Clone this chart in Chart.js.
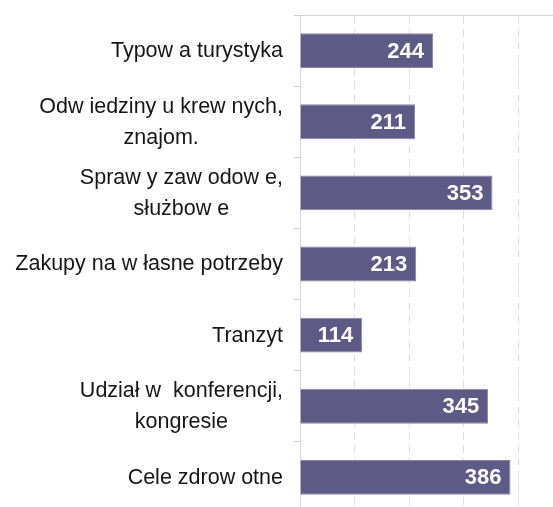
<!DOCTYPE html>
<html>
<head>
<meta charset="utf-8">
<script src="https://cdn.jsdelivr.net/npm/chart.js@4/dist/chart.umd.min.js"></script>
<style>
  html, body { margin: 0; padding: 0; background: #fff; overflow: hidden; }
  .wrap { position: relative; width: 553px; height: 515px; }
</style>
</head>
<body>
<div class="wrap"><canvas id="chart"></canvas></div>
<script>
// purposes of the visit, number of visitors
const categories = [
  ["Typow a turystyka"],
  ["Odw iedziny u krew nych,", "znajom."],
  ["Spraw y zaw odow e,", "służbow e"],
  ["Zakupy na w łasne potrzeby"],
  ["Tranzyt"],
  ["Udział w  konferencji,", "kongresie"],
  ["Cele zdrow otne"],
];
const visitors = [244, 211, 353, 213, 114, 345, 386];
const gridTicks = [0, 100, 200, 300, 400];

const barColor = "#5e5a86";
const labelFont = "21.5px 'Liberation Sans', Arial, sans-serif";
const valueFont = "bold 22px 'Liberation Sans', Arial, sans-serif";

// category names: right edge of the block at the axis, lines centred in the block
const categoryLabels = {
  id: "categoryLabels",
  afterDraw(chart) {
    const ctx = chart.ctx;
    const y = chart.scales.y;
    const right = y.right - 17;
    const lineH = 31;
    ctx.save();
    ctx.font = labelFont;
    ctx.fillStyle = "#161616";
    ctx.textAlign = "center";
    ctx.textBaseline = "middle";
    categories.forEach((lines, i) => {
      const cy = y.getPixelForValue(i) + 0.5;
      const w = Math.max(...lines.map((l) => ctx.measureText(l).width));
      const cx = right - w / 2;
      const top = cy - ((lines.length - 1) * lineH) / 2;
      lines.forEach((l, j) => ctx.fillText(l, cx, top + j * lineH));
    });
    ctx.restore();
  },
};

// value printed inside the end of each bar
const barValues = {
  id: "barValues",
  afterDatasetsDraw(chart) {
    const ctx = chart.ctx;
    const meta = chart.getDatasetMeta(0);
    ctx.save();
    ctx.font = valueFont;
    ctx.fillStyle = "#fff";
    ctx.textAlign = "right";
    ctx.textBaseline = "middle";
    meta.data.forEach((bar, i) => {
      ctx.fillText(String(visitors[i]), bar.x - 9, bar.y + 1);
    });
    ctx.restore();
  },
};

new Chart(document.getElementById("chart"), {
  type: "bar",
  data: {
    labels: categories.map((c) => c.join(" ")),
    datasets: [
      {
        data: visitors,
        backgroundColor: barColor,
        borderColor: "#8985a6",
        borderWidth: 1,
        barPercentage: 0.49,
        categoryPercentage: 1,
      },
    ],
  },
  options: {
    indexAxis: "y",
    responsive: true,
    maintainAspectRatio: false,
    animation: false,
    layout: { padding: { top: 15, right: 0, bottom: 2, left: 0 } },
    plugins: {
      legend: { display: false },
      tooltip: { enabled: false },
    },
    scales: {
      x: {
        position: "top",
        min: 0,
        max: 464,
        afterBuildTicks: (scale) => {
          scale.ticks = gridTicks.map((v) => ({ value: v }));
        },
        ticks: { display: false },
        grid: {
          drawTicks: false,
          color: (c) => (c.tick && c.tick.value === 0 ? "rgba(0,0,0,0)" : "#dedede"),
          lineWidth: 1,
        },
        border: { display: true, color: "#d6d6d6", dash: [8, 5] },
      },
      y: {
        afterFit: (scale) => {
          scale.width = 300;
        },
        ticks: { display: false },
        grid: {
          drawOnChartArea: false,
          drawTicks: true,
          tickLength: 6,
          color: "#cfcfcf",
        },
        border: { display: true, color: "#d2d2d2" },
      },
    },
  },
  plugins: [categoryLabels, barValues],
});
</script>
</body>
</html>
